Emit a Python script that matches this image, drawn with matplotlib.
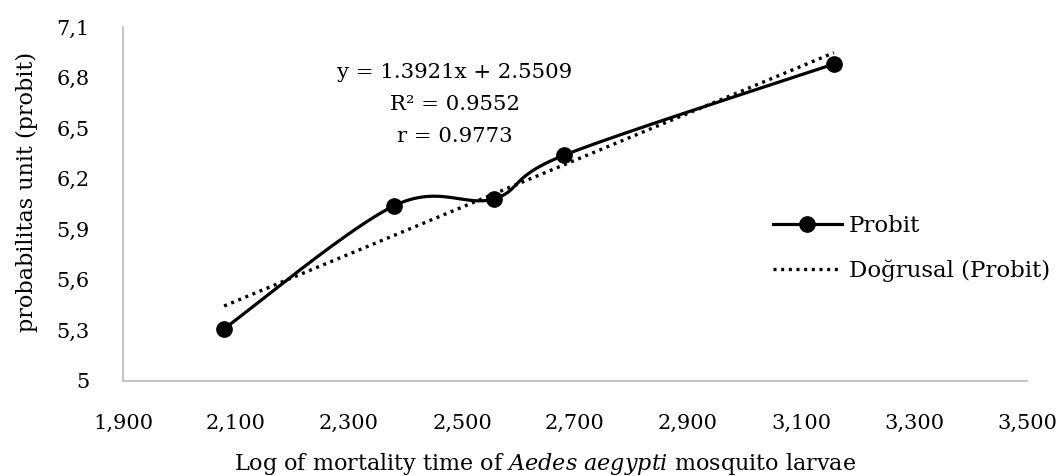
import numpy as np
import matplotlib
matplotlib.use("Agg")
import matplotlib.pyplot as plt
from matplotlib.ticker import FuncFormatter, FixedLocator

# ---- data ----
log_time = [2.079, 2.380, 2.556, 2.681, 3.158]
probit = [5.31, 6.04, 6.08, 6.34, 6.88]
trend_slope = 1.3921
trend_intercept = 2.5509
eq_lines = ["y = 1.3921x + 2.5509", "R² = 0.9552", "r = 0.9773"]
series_label = "Probit"
trend_label = "Doğrusal (Probit)"
xticks = [1.9, 2.1, 2.3, 2.5, 2.7, 2.9, 3.1, 3.3, 3.5]
yticks = [5.0, 5.3, 5.6, 5.9, 6.2, 6.5, 6.8, 7.1]
xlabel = r"Log of mortality time of $\mathit{Aedes\ aegypti}$ mosquito larvae"
ylabel = "probabilitas unit (probit)"

W, H = 1056, 476
plt.rcParams['font.family'] = ['DejaVu Serif']
plt.rcParams['mathtext.fontset'] = 'custom'
plt.rcParams['mathtext.rm'] = 'DejaVu Serif'
plt.rcParams['mathtext.it'] = 'DejaVu Serif:italic'
FS_TICK = 15
FS_LAB = 16
FS_LEG = 16.5

fig = plt.figure(figsize=(W / 100, H / 100), dpi=100)
L, R, B, T = 123, 1027, 381, 27
ax = fig.add_axes([L / W, 1 - B / H, (R - L) / W, (B - T) / H])
ax.set_xlim(xticks[0], xticks[-1])
ax.set_ylim(yticks[0], yticks[-1])

# smooth curve (Bezier through points in pixel space, like spreadsheet smoothing)
sx = (R - L) / (xticks[-1] - xticks[0])
sy = (B - T) / (yticks[-1] - yticks[0])
P = np.column_stack([np.array(log_time) * sx, np.array(probit) * sy])
n = len(P)
curve = []
t = np.linspace(0, 1, 60)
for i in range(n - 1):
    p0 = P[max(i - 1, 0)]
    p1 = P[i]
    p2 = P[i + 1]
    p3 = P[min(i + 2, n - 1)]
    c1 = p1 + (p2 - p0) / 6
    c2 = p2 - (p3 - p1) / 6
    seg = ((1 - t)[:, None] ** 3) * p1 + 3 * ((1 - t) ** 2 * t)[:, None] * c1 \
        + 3 * ((1 - t) * t ** 2)[:, None] * c2 + (t ** 3)[:, None] * p2
    curve.append(seg)
curve = np.vstack(curve)
ax.plot(curve[:, 0] / sx, curve[:, 1] / sy, color='black', lw=2.3,
        solid_capstyle='round', zorder=3)
ax.plot(log_time, probit, linestyle='none', marker='o', ms=11,
        color='black', zorder=4)

# linear trendline
xt = np.array([min(log_time), max(log_time)])
DOT = (0, (0.9, 1.4))
ax.plot(xt, trend_slope * xt + trend_intercept, color='black', lw=2.4,
        linestyle=DOT, zorder=2)

# equation text
for k, s in enumerate(eq_lines):
    fig.text(455 / W, 1 - (72 + 32.5 * k) / H, s, ha='center', va='center',
             fontsize=15.3)

# axes styling
for sp in ['top', 'right']:
    ax.spines[sp].set_visible(False)
for sp in ['left', 'bottom']:
    ax.spines[sp].set_color('#BFBFBF')
    ax.spines[sp].set_linewidth(1.3)
ax.xaxis.set_major_locator(FixedLocator(xticks))
ax.yaxis.set_major_locator(FixedLocator(yticks))
ax.xaxis.set_major_formatter(FuncFormatter(lambda v, p: f"{v:.3f}".replace('.', ',')))
ax.yaxis.set_major_formatter(FuncFormatter(
    lambda v, p: ("5" if abs(v - 5) < 1e-9 else f"{v:.1f}".replace('.', ','))))
ax.tick_params(length=0, labelsize=FS_TICK)
ax.tick_params(axis='x', pad=23.5)
ax.tick_params(axis='y', pad=24)

# labels
fig.text(27 / W, 1 - 192 / H, ylabel, rotation=90, ha='center', va='center',
         fontsize=FS_LAB)
fig.text(545 / W, 1 - 470 / H, xlabel, ha='center', va='baseline', fontsize=FS_LAB)

# legend
leg = fig.legend(handles=[
    plt.Line2D([], [], color='black', lw=2.3, marker='o', ms=11),
    plt.Line2D([], [], color='black', lw=2.4, linestyle=DOT)],
    labels=[series_label, trend_label],
    loc='center left', bbox_to_anchor=(773 / W, 1 - 248.5 / H),
    frameon=False, fontsize=FS_LEG, handlelength=3.0, handletextpad=0.3,
    labelspacing=0.95, borderpad=0, borderaxespad=0)

fig.savefig("out.png", dpi=100)
